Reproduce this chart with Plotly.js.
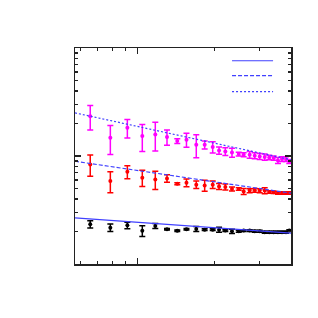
<!DOCTYPE html>
<html>
<head>
<meta charset="utf-8">
<script src="https://cdn.plot.ly/plotly-3.0.1.min.js"></script>
<style>html,body{margin:0;padding:0;background:#fff;}#chart{width:318px;height:318px;}</style>
</head>
<body>
<div id="chart"></div>
<script>
var xVals = [6.54, 7.84, 9.14, 10.46, 11.76, 13.07, 14.34, 15.58, 17.02, 18.36, 19.74, 20.9, 22.12, 23.49, 24.96, 26.1, 27.55, 28.83, 30.16, 31.55, 32.88, 34.21, 35.56, 36.87, 38.23, 39.38];

var magentaVals = [2.339, 1.474, 1.824, 1.529, 1.582, 1.497, 1.374, 1.413, 1.270, 1.270, 1.210, 1.125, 1.102, 1.079, 1.042, 1.027, 1.027, 1.005, 0.990, 0.978, 0.970, 0.957, 0.910, 0.937, 0.937, 0.890];
var magentaErr = [0.599, 0.441, 0.355, 0.431, 0.467, 0.240, 0.072, 0.21, 0.307, 0.108, 0.143, 0.086, 0.09, 0.103, 0.044, 0.044, 0.073, 0.064, 0.063, 0.063, 0.047, 0.042, 0.058, 0.047, 0.047, 0.038];

var redVals = [0.835, 0.587, 0.715, 0.630, 0.607, 0.620, 0.554, 0.566, 0.543, 0.534, 0.543, 0.523, 0.517, 0.495, 0.495, 0.470, 0.478, 0.481, 0.478, 0.478, 0.465, 0.461, 0.455, 0.455, 0.455, 0.455];
var redErr = [0.184, 0.129, 0.099, 0.109, 0.117, 0.049, 0.012, 0.048, 0.044, 0.062, 0.044, 0.034, 0.033, 0.022, 0.012, 0.03, 0.02, 0.02, 0.02, 0.03, 0.012, 0.012, 0.012, 0.012, 0.012, 0.012];

var blackVals = [0.233, 0.217, 0.228, 0.203, 0.225, 0.210, 0.203, 0.210, 0.211, 0.208, 0.208, 0.208, 0.204, 0.201, 0.201, 0.204, 0.204, 0.201, 0.201, 0.197, 0.197, 0.197, 0.197, 0.197, 0.197, 0.204];
var blackErr = [0.018, 0.017, 0.016, 0.023, 0.012, 0.003, 0.003, 0.003, 0.011, 0.004, 0.004, 0.011, 0.004, 0.009, 0.004, 0.004, 0.004, 0.004, 0.004, 0.004, 0.004, 0.004, 0.004, 0.004, 0.004, 0.004];

var fitX = [5.7, 40];
var fitSolid = [0.267, 0.193];
var fitDashed = [0.894, 0.453];
var fitDotted = [2.508, 0.923];

var xMajorTicks = [10];
var xMinorTicks = [6, 7, 8, 9, 20, 30];
var yMajorTicks = [1];
var yMinorTicks = [0.2, 0.3, 0.4, 0.5, 0.6, 0.7, 0.8, 0.9, 2, 3, 4, 5, 6, 7, 8, 9];

var lineColor = '#4040ff';
var solidDash = 'solid', dashedDash = '4px,2px', dottedDash = '2px,2px';

function dataTrace(y, err, color) {
  return {
    x: xVals, y: y, type: 'scatter', mode: 'markers', showlegend: false,
    marker: {color: color, size: 4},
    error_y: {type: 'data', array: err, visible: true, color: color, thickness: 1.5, width: 3}
  };
}
function fitTrace(y, dash) {
  return {
    x: fitX, y: y, type: 'scatter', mode: 'lines', showlegend: false,
    line: {color: lineColor, width: 1.2, dash: dash}
  };
}

var traces = [
  dataTrace(magentaVals, magentaErr, '#ff00ff'),
  dataTrace(redVals, redErr, '#ff0000'),
  dataTrace(blackVals, blackErr, '#000000'),
  fitTrace(fitSolid, solidDash),
  fitTrace(fitDashed, dashedDash),
  fitTrace(fitDotted, dottedDash)
];

// legend keys (no text), drawn in paper coordinates
function legendKey(yPaper, dash) {
  return {type: 'line', xref: 'paper', yref: 'paper', x0: 0.727, x1: 0.917, y0: yPaper, y1: yPaper,
          line: {color: lineColor, width: 1.2, dash: dash}};
}

var axisCommon = {
  type: 'log', showgrid: false, zeroline: false, showticklabels: false,
  showline: true, linecolor: '#222', linewidth: 1.5, mirror: 'allticks',
  ticks: 'inside', ticklen: 6, tickcolor: '#222', tickwidth: 1.2, tickmode: 'array'
};

var layout = {
  width: 318, height: 318,
  margin: {l: 75, r: 27, t: 48, b: 54},
  paper_bgcolor: '#fff', plot_bgcolor: '#fff',
  xaxis: Object.assign({}, axisCommon, {
    range: [Math.log10(5.7), Math.log10(40)],
    tickvals: xMajorTicks,
    minor: {tickmode: 'array', tickvals: xMinorTicks, ticks: 'inside', ticklen: 3, tickcolor: '#222', tickwidth: 1.2}
  }),
  yaxis: Object.assign({}, axisCommon, {
    range: [-1, 1],
    tickvals: yMajorTicks,
    minor: {tickmode: 'array', tickvals: yMinorTicks, ticks: 'inside', ticklen: 3, tickcolor: '#222', tickwidth: 1.2}
  }),
  shapes: [legendKey(0.941, solidDash), legendKey(0.872, dashedDash), legendKey(0.798, dottedDash)],
  showlegend: false
};

Plotly.newPlot('chart', traces, layout, {displayModeBar: false, staticPlot: true});
</script>
</body>
</html>
